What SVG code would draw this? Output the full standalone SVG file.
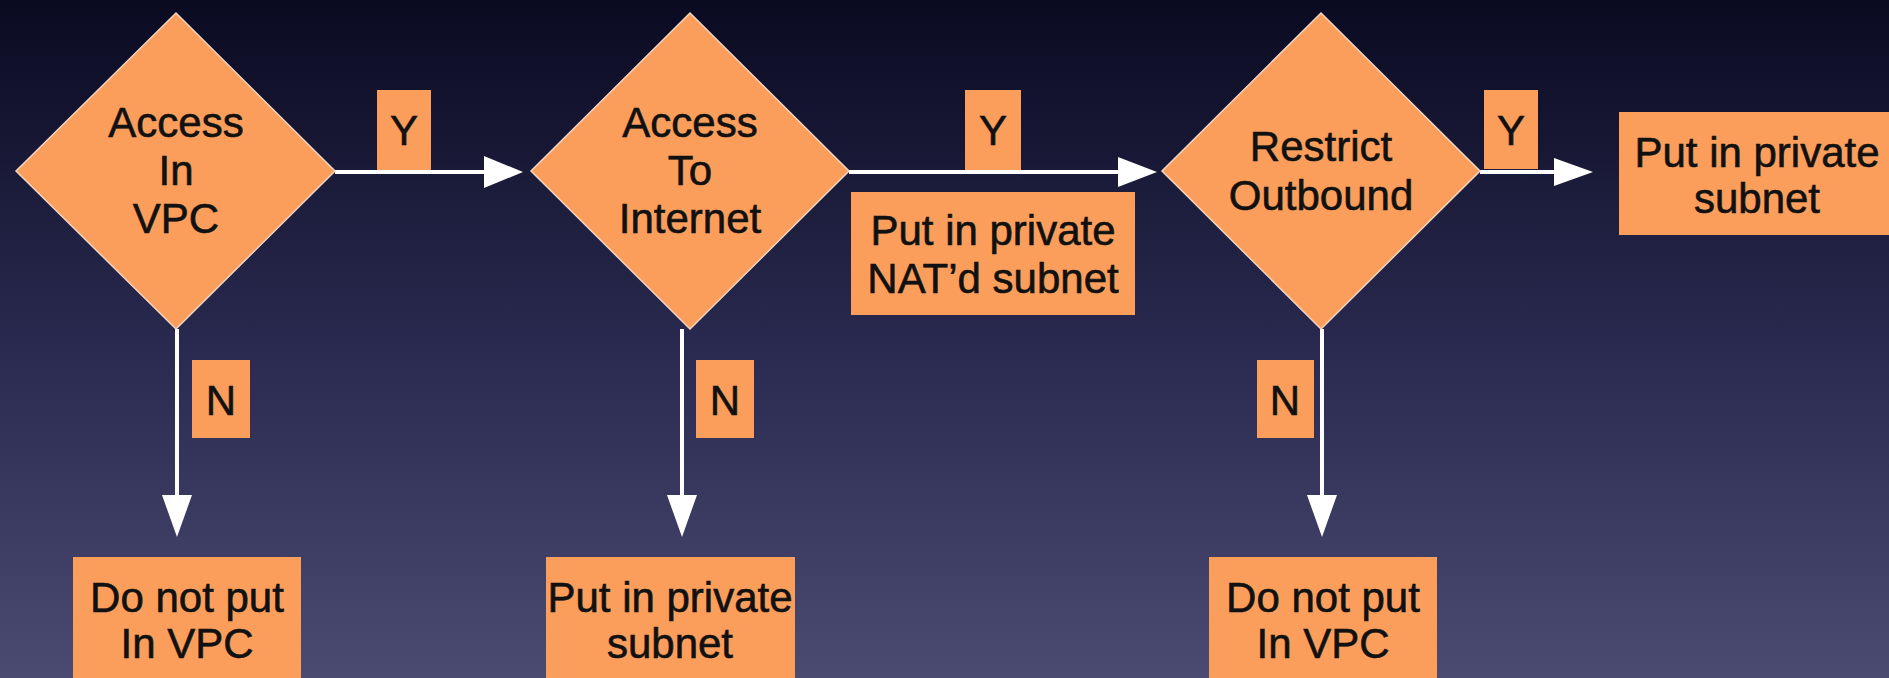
<svg xmlns="http://www.w3.org/2000/svg" width="1889" height="678" viewBox="0 0 1889 678">
  <defs>
    <linearGradient id="bg" x1="0" y1="0" x2="0" y2="1">
      <stop offset="0" stop-color="#0a0a21"/>
      <stop offset="0.5" stop-color="#29294f"/>
      <stop offset="1" stop-color="#4b4a70"/>
    </linearGradient>
    <style>
      .shape { fill: #fb9e5c; }
      .decision { fill: #fb9e5c; stroke: #f3d6c2; stroke-width: 1.5; }
      .label { font-family: "Liberation Sans", Arial, sans-serif; font-size: 42px; fill: #111111; stroke: #111111; stroke-width: 0.6; text-anchor: middle; }
      .wire { stroke: #ffffff; stroke-width: 4; fill: none; }
      .head { fill: #ffffff; }
    </style>
  </defs>

  <rect x="0" y="0" width="1889" height="678" fill="url(#bg)"/>

  <!-- connectors -->
  <g id="connectors">
    <line class="wire" x1="335" y1="172" x2="488" y2="172"/>
    <polygon class="head" points="484,156 523,172 484,188"/>
    <line class="wire" x1="849" y1="172" x2="1122" y2="172"/>
    <polygon class="head" points="1118,157 1157,172 1118,187"/>
    <line class="wire" x1="1480" y1="172" x2="1558" y2="172"/>
    <polygon class="head" points="1554,158 1593,172 1554,186"/>

    <line class="wire" x1="177" y1="329" x2="177" y2="499"/>
    <polygon class="head" points="162,495 177,537 192,495"/>
    <line class="wire" x1="682" y1="329" x2="682" y2="499"/>
    <polygon class="head" points="667,495 682,537 697,495"/>
    <line class="wire" x1="1322" y1="329" x2="1322" y2="499"/>
    <polygon class="head" points="1307,495 1322,537 1337,495"/>

    <!-- branch labels -->
    <g id="label-y1">
      <rect class="shape" x="377" y="90" width="54" height="80"/>
      <text class="label" x="404" y="145">Y</text>
    </g>
    <g id="label-y2">
      <rect class="shape" x="965" y="90" width="56" height="80"/>
      <text class="label" x="993" y="145">Y</text>
    </g>
    <g id="label-y3">
      <rect class="shape" x="1484" y="90" width="54" height="79"/>
      <text class="label" x="1511" y="145">Y</text>
    </g>
    <g id="label-n1">
      <rect class="shape" x="192" y="360" width="58" height="78"/>
      <text class="label" x="221" y="415">N</text>
    </g>
    <g id="label-n2">
      <rect class="shape" x="696" y="360" width="58" height="78"/>
      <text class="label" x="725" y="415">N</text>
    </g>
    <g id="label-n3">
      <rect class="shape" x="1257" y="360" width="57" height="78"/>
      <text class="label" x="1285" y="415">N</text>
    </g>
  </g>

  <!-- decisions -->
  <g id="access-in-vpc">
    <polygon class="decision" points="176,13 335,171 176,329 16,171"/>
    <text class="label" x="176" y="137">Access</text>
    <text class="label" x="176" y="185">In</text>
    <text class="label" x="176" y="233">VPC</text>
  </g>
  <g id="access-to-internet">
    <polygon class="decision" points="690,13 849,171 690,329 531,171"/>
    <text class="label" x="690" y="137">Access</text>
    <text class="label" x="690" y="185">To</text>
    <text class="label" x="690" y="233">Internet</text>
  </g>
  <g id="restrict-outbound">
    <polygon class="decision" points="1321,13 1480,171 1321,329 1162,171"/>
    <text class="label" x="1321" y="161">Restrict</text>
    <text class="label" x="1321" y="210">Outbound</text>
  </g>

  <!-- outcomes -->
  <g id="nat-subnet">
    <rect class="shape" x="851" y="192" width="284" height="123"/>
    <text class="label" x="993" y="245">Put in private</text>
    <text class="label" x="993" y="293">NAT’d subnet</text>
  </g>
  <g id="private-subnet-right">
    <rect class="shape" x="1619" y="112" width="280" height="123"/>
    <text class="label" x="1757" y="167">Put in private</text>
    <text class="label" x="1757" y="213">subnet</text>
  </g>
  <g id="not-in-vpc-1">
    <rect class="shape" x="73" y="557" width="228" height="130"/>
    <text class="label" x="187" y="612">Do not put</text>
    <text class="label" x="187" y="658">In VPC</text>
  </g>
  <g id="private-subnet-bottom">
    <rect class="shape" x="546" y="557" width="249" height="130"/>
    <text class="label" x="670" y="612">Put in private</text>
    <text class="label" x="670" y="658">subnet</text>
  </g>
  <g id="not-in-vpc-2">
    <rect class="shape" x="1209" y="557" width="228" height="130"/>
    <text class="label" x="1323" y="612">Do not put</text>
    <text class="label" x="1323" y="658">In VPC</text>
  </g>
</svg>
